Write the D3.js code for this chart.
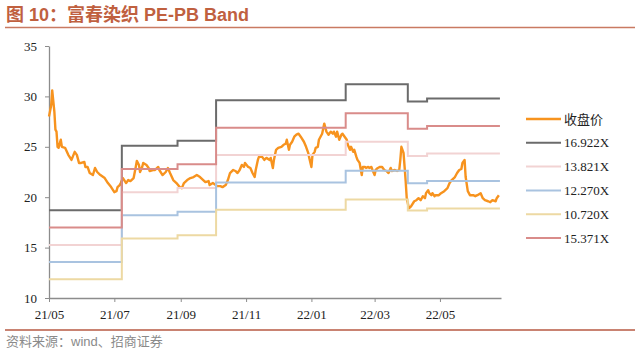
<!DOCTYPE html>
<html>
<head>
<meta charset="utf-8">
<script src="https://cdn.jsdelivr.net/npm/d3@7"></script>
<style>
    body { margin: 0; background: #fff; }
    svg { display: block; }
</style>
</head>
<body>
<div class="chart"></div>
<script>
var svgWidth = 640;
var svgHeight = 353;

// close price
var priceDates = ["21/05/01","21/05/03","21/05/04","21/05/06","21/05/07","21/05/08","21/05/09","21/05/10","21/05/12","21/05/13",
    "21/05/16","21/05/19","21/05/22","21/05/25","21/05/27","21/05/29","21/05/31","21/06/03","21/06/04","21/06/06",
    "21/06/08","21/06/11","21/06/13","21/06/15","21/06/18","21/06/22","21/06/25","21/06/28","21/07/01","21/07/03",
    "21/07/04","21/07/06","21/07/07","21/07/09","21/07/12","21/07/14","21/07/16","21/07/19","21/07/21","21/07/22",
    "21/07/24","21/07/25","21/07/27","21/07/28","21/07/31","21/08/02","21/08/03","21/08/06","21/08/08","21/08/11",
    "21/08/12","21/08/15","21/08/18","21/08/20","21/08/22","21/08/25","21/08/28","21/08/31","21/09/02","21/09/04",
    "21/09/07","21/09/10","21/09/13","21/09/16","21/09/19","21/09/22","21/09/24","21/09/27","21/09/28","21/10/01",
    "21/10/05","21/10/08","21/10/10","21/10/13","21/10/15","21/10/17","21/10/20","21/10/22","21/10/24","21/10/26",
    "21/10/28","21/10/30","21/10/31","21/11/03","21/11/05","21/11/07","21/11/09","21/11/10","21/11/12","21/11/13",
    "21/11/16","21/11/18","21/11/20","21/11/23","21/11/24","21/11/26","21/11/27","21/11/29","21/12/01","21/12/04",
    "21/12/06","21/12/08","21/12/09","21/12/11","21/12/12","21/12/14","21/12/16","21/12/18","21/12/20","21/12/22",
    "21/12/25","21/12/27","21/12/29","21/12/30","22/01/01","22/01/02","22/01/04","22/01/05","22/01/07","22/01/08",
    "22/01/11","22/01/13","22/01/15","22/01/17","22/01/19","22/01/21","22/01/22","22/01/24","22/01/25","22/01/27",
    "22/01/29","22/01/30","22/02/01","22/02/03","22/02/04","22/02/06","22/02/07","22/02/09","22/02/10","22/02/12",
    "22/02/13","22/02/15","22/02/17","22/02/18","22/02/20","22/02/21","22/02/23","22/02/24","22/02/26","22/02/27",
    "22/03/01","22/03/02","22/03/04","22/03/06","22/03/08","22/03/10","22/03/12","22/03/14","22/03/16","22/03/17",
    "22/03/20","22/03/22","22/03/24","22/03/25","22/03/26","22/03/28","22/03/29","22/03/30","22/03/31","22/04/02",
    "22/04/04","22/04/07","22/04/09","22/04/11","22/04/13","22/04/15","22/04/17","22/04/18","22/04/20","22/04/21",
    "22/04/23","22/04/24","22/04/26","22/04/27","22/04/30","22/05/02","22/05/05","22/05/08","22/05/10","22/05/12",
    "22/05/15","22/05/17","22/05/19","22/05/21","22/05/22","22/05/24","22/05/25","22/05/27","22/05/29","22/06/01",
    "22/06/03","22/06/05","22/06/08","22/06/10","22/06/12","22/06/15","22/06/17","22/06/19","22/06/22","22/06/23",
    "22/06/25"];

var priceValues = [28.0,29.1,30.6,28.5,26.7,26.5,25.0,24.9,25.7,25.0,
    24.9,24.2,23.7,24.5,24.2,23.4,23.4,23.5,23.0,23.0,
    22.4,22.2,22.9,22.5,22.2,21.9,21.4,21.0,20.5,20.6,
    21.0,21.2,21.4,21.9,21.4,21.7,21.6,21.9,23.0,23.6,
    23.2,22.5,23.0,23.4,23.2,22.9,22.6,22.7,22.7,23.0,
    22.7,22.2,22.5,22.9,22.4,21.7,21.4,21.0,20.9,21.4,
    21.7,21.9,22.0,22.2,22.0,21.7,21.5,21.6,21.2,21.4,
    21.1,21.1,21.0,21.2,21.7,22.4,22.7,22.6,22.4,22.7,
    23.2,23.0,23.4,23.0,22.9,22.4,22.0,22.7,23.7,24.0,
    24.0,23.7,23.9,23.7,23.9,22.9,23.7,24.7,24.9,25.0,
    25.2,25.3,25.7,24.7,25.2,25.5,26.0,26.2,26.3,26.0,
    25.5,25.0,24.4,23.9,23.0,24.2,24.5,24.9,25.0,25.7,
    26.3,27.3,26.5,26.2,26.5,26.3,26.5,26.0,26.5,25.7,
    26.2,26.3,26.0,25.7,25.2,24.7,25.0,24.5,24.7,24.0,
    23.7,23.4,22.2,23.0,23.0,22.9,23.0,22.9,23.0,22.7,
    22.2,22.7,22.9,23.0,23.0,22.7,22.6,22.4,22.9,22.6,
    22.7,22.6,22.7,23.7,25.0,24.4,23.0,21.6,19.9,18.9,
    19.1,19.6,19.7,19.9,19.7,20.1,19.9,20.4,20.7,20.4,
    20.2,20.4,20.1,20.2,20.2,20.4,20.6,20.9,21.4,21.7,
    22.0,22.4,22.7,22.8,23.4,23.7,22.0,20.6,20.2,20.2,
    20.1,20.2,20.4,19.9,19.7,19.6,19.5,19.7,19.6,19.9,
    20.2];

// PE bands, one value per step (last repeats to the end date)
var bandDates = ["21/05/01","21/07/08","21/08/29","21/10/04","22/02/02","22/04/01","22/04/19","22/06/26"];
var band16922 = [18.70, 25.10, 25.60, 29.61, 31.20, 29.50, 29.80, 29.80];
var band13821 = [15.27, 20.50, 20.91, 24.19, 25.49, 24.09, 24.34, 24.34];
var band12270 = [13.56, 18.20, 18.56, 21.47, 22.63, 21.39, 21.61, 21.61];
var band10720 = [11.85, 15.90, 16.22, 18.76, 19.77, 18.68, 18.88, 18.88];
var band15371 = [16.99, 22.80, 23.26, 26.90, 28.34, 26.79, 27.07, 27.07];

var seriesNames = ["收盘价", "16.922X", "13.821X", "12.270X", "10.720X", "15.371X"];
var seriesColors = ["#F7931E", "#6B6B6B", "#F2D3D3", "#A9C3E0", "#EDD9A3", "#D98C8A"];

var yTicks = [10, 15, 20, 25, 30, 35];

var parseDate = d3.timeParse("%y/%m/%d");

var svg = d3
    .select(".chart")
    .append("svg")
    .attr("width", svgWidth)
    .attr("height", svgHeight);

// title
svg.append("text")
    .attr("x", 6)
    .attr("y", 21)
    .attr("font-family", "'Liberation Sans', 'Noto Sans CJK SC', sans-serif")
    .attr("font-size", "18px")
    .attr("font-weight", "bold")
    .attr("fill", "#C0603F")
    .text("图 10：富春染织 PE-PB Band");

svg.append("line")
    .attr("x1", 5).attr("x2", 635)
    .attr("y1", 27.5).attr("y2", 27.5)
    .attr("stroke", "#C97A62")
    .attr("stroke-width", 1.5);

var xScale = d3.scaleTime()
    .domain([parseDate("21/05/01"), parseDate("22/06/27")])
    .range([49, 501]);

var yScale = d3.scaleLinear()
    .domain([10, 35])
    .range([298, 46]);

var xAxis = d3.axisBottom(xScale)
    .ticks(d3.timeMonth.every(2))
    .tickFormat(d3.timeFormat("%y/%m"))
    .tickSize(4)
    .tickSizeOuter(0);

var yAxis = d3.axisLeft(yScale)
    .tickValues(yTicks)
    .tickSize(4)
    .tickSizeOuter(0)
    .tickPadding(8);

var xAxisGroup = svg.append("g")
    .attr("transform", "translate(0, 298)")
    .call(xAxis);

var yAxisGroup = svg.append("g")
    .attr("transform", "translate(49, 0)")
    .call(yAxis);

[xAxisGroup, yAxisGroup].forEach(function(g) {
    g.select(".domain").attr("stroke", "#8C8C8C").attr("stroke-width", 1.3);
    g.selectAll(".tick line").attr("stroke", "#8C8C8C");
    g.selectAll(".tick text")
        .attr("fill", "#222")
        .attr("font-family", "'Liberation Serif', 'Times New Roman', serif")
        .attr("font-size", "13px");
});
xAxisGroup.selectAll(".tick text").attr("dy", "1.05em");

var priceData = priceDates.map(function(d, i) {
    return { date: parseDate(d), value: priceValues[i] };
});

var bandSeries = [band16922, band13821, band12270, band10720, band15371].map(function(vals) {
    return bandDates.map(function(d, i) {
        return { date: parseDate(d), value: vals[i] };
    });
});

var priceLine = d3.line()
    .x(function(d) { return xScale(d.date); })
    .y(function(d) { return yScale(d.value); });

var stepLine = d3.line()
    .curve(d3.curveStepAfter)
    .x(function(d) { return xScale(d.date); })
    .y(function(d) { return yScale(d.value); });

svg.append("path")
    .datum(priceData)
    .attr("fill", "none")
    .attr("stroke", seriesColors[0])
    .attr("stroke-width", 2.4)
    .attr("stroke-linejoin", "round")
    .attr("d", priceLine);

bandSeries.forEach(function(data, i) {
    svg.append("path")
        .datum(data)
        .attr("fill", "none")
        .attr("stroke", seriesColors[i + 1])
        .attr("stroke-width", 2)
        .attr("d", stepLine);
});

// legend
var legend = svg.append("g")
    .attr("transform", "translate(526, 119)");

seriesNames.forEach(function(name, i) {
    var row = legend.append("g")
        .attr("transform", "translate(0, " + (i * 23.8) + ")");
    row.append("line")
        .attr("x1", 0).attr("x2", 35)
        .attr("y1", 0).attr("y2", 0)
        .attr("stroke", seriesColors[i])
        .attr("stroke-width", i === 0 ? 2.5 : 2);
    row.append("text")
        .attr("x", 38)
        .attr("y", 4.5)
        .attr("font-family", "'Liberation Serif', 'Noto Sans CJK SC', serif")
        .attr("font-size", "13px")
        .attr("fill", "#222")
        .text(name);
});

// footer
svg.append("line")
    .attr("x1", 5).attr("x2", 635)
    .attr("y1", 330).attr("y2", 330)
    .attr("stroke", "#C98372")
    .attr("stroke-width", 2);

svg.append("text")
    .attr("x", 6)
    .attr("y", 346)
    .attr("font-family", "'Liberation Sans', 'Noto Sans CJK SC', sans-serif")
    .attr("font-size", "13px")
    .attr("fill", "#8A8A8A")
    .text("资料来源：wind、招商证券");
</script>
</body>
</html>
